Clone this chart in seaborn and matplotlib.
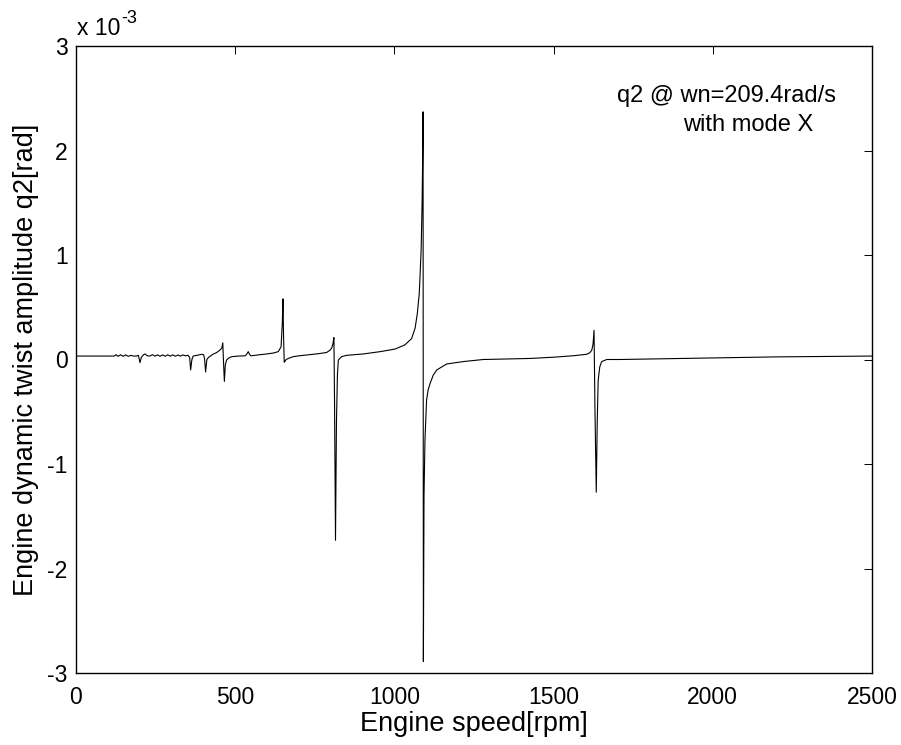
import matplotlib
matplotlib.use("Agg")
import matplotlib.pyplot as plt
import numpy as np
import pandas as pd
import seaborn as sns

# ---- data (q2 in units of 1e-3 rad) ----
rpm = [0, 120, 126, 132, 140, 148, 156, 164, 172, 180, 190, 196, 201, 205, 212, 217, 224,
       232, 240, 248, 256, 264, 272, 280, 288, 296, 304, 312, 320, 328, 336, 344, 352, 357,
       360, 364, 368, 380, 395, 401, 404, 407, 411, 416, 430, 442, 452, 458, 461, 463, 466,
       469, 473, 480, 489, 510, 531, 536, 541, 545, 549, 575, 599, 620, 635, 644, 648, 650,
       652, 654, 660, 667, 682, 700, 724, 760, 787, 798, 803, 807, 810, 812, 815, 818, 821,
       824, 834, 850, 902, 955, 1002, 1033, 1054, 1065, 1072, 1078, 1080, 1084, 1087, 1089,
       1090, 1091, 1093, 1096, 1101, 1106, 1112, 1122, 1133, 1164, 1216, 1279, 1426, 1500,
       1562, 1604, 1614, 1620, 1624, 1627, 1630, 1634, 1637, 1640, 1645, 1651, 1667, 1709,
       1800, 2000, 2200, 2400, 2500]
q2 = [0.033, 0.033, 0.046, 0.030, 0.045, 0.031, 0.044, 0.030, 0.040, 0.033, 0.033, 0.040,
      -0.030, 0.020, 0.045, 0.053, 0.035, 0.033, 0.046, 0.032, 0.044, 0.031, 0.044, 0.031,
      0.045, 0.032, 0.044, 0.031, 0.043, 0.032, 0.044, 0.035, 0.040, 0.020, -0.100, 0.000,
      0.033, 0.040, 0.050, 0.045, 0.000, -0.120, 0.000, 0.020, 0.050, 0.067, 0.090, 0.110,
      0.160, 0.000, -0.210, -0.050, -0.005, 0.015, 0.027, 0.033, 0.035, 0.050, 0.075, 0.050,
      0.035, 0.045, 0.053, 0.062, 0.075, 0.120, 0.350, 0.580, 0.200, -0.027, 0.000, 0.010,
      0.027, 0.035, 0.043, 0.055, 0.067, 0.090, 0.110, 0.150, 0.210, -0.400, -1.730, -0.600,
      -0.150, -0.005, 0.027, 0.040, 0.053, 0.075, 0.100, 0.140, 0.200, 0.300, 0.440, 0.630,
      0.760, 1.050, 1.500, 2.000, 2.370, -2.890, -1.300, -0.770, -0.390, -0.290, -0.230,
      -0.150, -0.100, -0.043, -0.020, 0.000, 0.010, 0.022, 0.036, 0.050, 0.065, 0.090,
      0.150, 0.280, -0.500, -1.270, -0.600, -0.200, -0.070, -0.020, 0.000, 0.000, 0.005,
      0.015, 0.025, 0.030, 0.033]
x_ticks = [0, 500, 1000, 1500, 2000, 2500]
y_ticks = [-3, -2, -1, 0, 1, 2, 3]

sns.set_theme(style="white")
plt.rcParams["font.family"] = ["Liberation Sans", "DejaVu Sans"]
plt.rcParams["axes.unicode_minus"] = False

W, H = 901, 745
fig = plt.figure(figsize=(W / 100, H / 100), dpi=100)
ax = fig.add_axes([76 / W, 1 - 673 / H, (872 - 76) / W, (673 - 46) / H])

df = pd.DataFrame({"rpm": rpm, "q2": q2})
sns.lineplot(data=df, x="rpm", y="q2", color="black", linewidth=0.8,
             estimator=None, sort=False, ax=ax)

ax.set_xlim(0, 2500)
ax.set_ylim(-3, 3)
ax.set_xticks(x_ticks)
ax.set_yticks(y_ticks)
ax.set_xticklabels([str(t) for t in x_ticks])
ax.set_yticklabels([str(t) for t in y_ticks])
ax.tick_params(direction="in", length=6, width=0.7, top=True, right=True,
               labelsize=16.5, colors="black")
ax.tick_params(axis="y", pad=6)
ax.tick_params(axis="x", pad=9)
for s in ax.spines.values():
    s.set_visible(True)
    s.set_color("black")
    s.set_linewidth(1.0)
ax.set_facecolor("white")
ax.grid(False)

ax.set_xlabel("Engine speed[rpm]", fontsize=19.5, color="black", labelpad=2)
ax.set_ylabel("Engine dynamic twist amplitude q2[rad]", fontsize=19.5, color="black",
              labelpad=6)

ax.text(1698, 2.467, "q2 @ wn=209.4rad/s", fontsize=17, color="black", va="baseline")
ax.text(1906, 2.19, "with mode X", fontsize=17, color="black", va="baseline")

fig.text(77 / W, 1 - 35 / H, "x 10", fontsize=16.5, color="black", va="baseline")
fig.text(121 / W, 1 - 23 / H, "-3", fontsize=13, color="black", va="baseline")

fig.savefig("out.png", dpi=100, facecolor="white")
